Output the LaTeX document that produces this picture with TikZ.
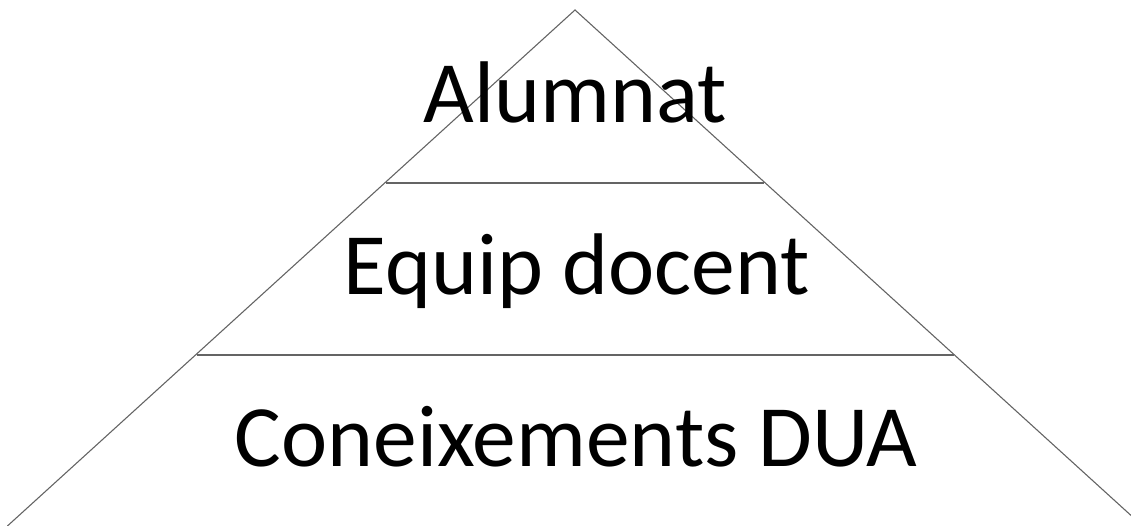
\documentclass[tikz,border=0pt]{standalone}
\usepackage{fontspec}
\setmainfont{Carlito}
\definecolor{edge}{RGB}{100,100,100}
\tikzset{
  edgeline/.style={draw=edge, line width=1.1pt},
  label/.style={anchor=base, inner sep=0pt, font=\fontsize{87.5}{96}\selectfont, text=black}
}
\begin{document}
\begin{tikzpicture}[x=1pt,y=1pt]
\useasboundingbox (0,0) rectangle (1131,526);
\clip (0,0) rectangle (1131,526);
\coordinate (apex) at (575,516);
\coordinate (bl) at (7.4,0);
\coordinate (br) at (1142.6,0);
\coordinate (l1) at (385.7,343);
\coordinate (r1) at (764.3,343);
\coordinate (l2) at (196.5,171);
\coordinate (r2) at (953.5,171);
\draw[edgeline] (bl) -- (apex) -- (br);
\draw[edgeline] (l1) -- (r1);
\draw[edgeline] (l2) -- (r2);
\node[label] (alumnat) at (575,403) {Alumnat};
\node[label] (equip) at (577,231) {Equip docent};
\node[label] (coneix) at (576,59) {Coneixements DUA};
\end{tikzpicture}
\end{document}
